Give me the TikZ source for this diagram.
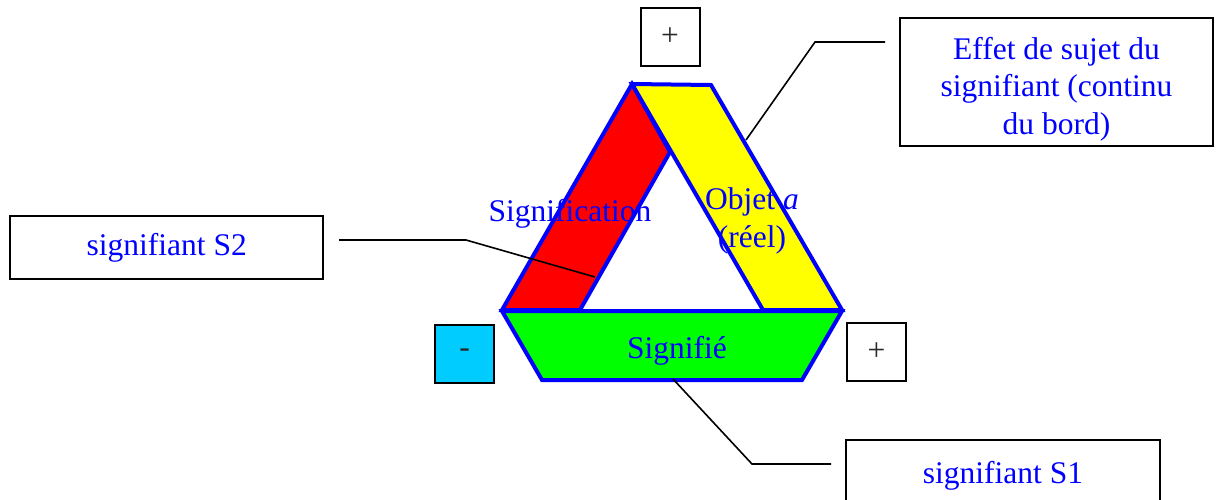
\documentclass[tikz,border=0pt]{standalone}
\usepackage{fontspec}
\setmainfont{Liberation Serif}
\definecolor{bandblue}{RGB}{0,0,255}
\definecolor{bandred}{RGB}{255,0,0}
\definecolor{bandyellow}{RGB}{255,255,0}
\definecolor{bandgreen}{RGB}{0,255,0}
\definecolor{signcyan}{RGB}{0,204,255}
\definecolor{signgray}{RGB}{40,40,40}
\tikzset{
  band/.style={draw=bandblue, line width=2pt, line join=miter},
  labeltext/.style={text=bandblue, font=\fontsize{15.75}{18.75}\selectfont, inner sep=0pt, align=center},
  callout/.style={draw=black, line width=1pt, fill=white, inner sep=0pt, align=center,
    text=bandblue, font=\fontsize{15.75}{18.75}\selectfont},
  signbox/.style={draw=black, line width=1pt, inner sep=0pt, text=signgray,
    font=\fontsize{15.75}{18.75}\selectfont, minimum width=29.5pt, minimum height=29pt},
  leader/.style={draw=black, line width=0.8pt},
}
\begin{document}
\begin{tikzpicture}[x=0.5pt, y=-0.5pt]
  \clip (0,0) rectangle (1221,499);
  \fill[white] (0,0) rectangle (1221,499);

  % the three bands of the triangle
  \draw[band, fill=bandred]    (632,84) -- (670,152) -- (580,310) -- (502,310) -- cycle;
  \draw[band, fill=bandyellow] (632,84) -- (711,85) -- (842,310) -- (763,310) -- cycle;
  \draw[band, fill=bandgreen]  (502,311) -- (842,311) -- (802,380) -- (542,380) -- cycle;

  % band names
  \node[labeltext] (signification) at (570,214) {Signification};
  \node[labeltext] (objet) at (752,221) {Objet \textit{a}\\(réel)};
  \node[labeltext] (signifie) at (677,351) {Signifié};

  % sign boxes at the corners
  \node[signbox] (plustop) at (670,36.5) {+};
  \node[signbox, fill=signcyan] (minus) at (464.5,353.5) {-};
  \node[signbox] (plusright) at (876.5,351.7) {+};

  % callout boxes
  \node[callout, minimum width=156.5pt, minimum height=64pt] (effet) at (1056.5,82) {};
  \node[labeltext] (effettext) at (1056.5,89)
    {Effet de sujet du\\signifiant (continu\\du bord)};
  \node[callout, minimum width=156.5pt, minimum height=31.5pt] (s2) at (166.7,247.5)
    {signifiant S2};
  \node[callout, minimum width=157pt, minimum height=36pt] (s1) at (1003,476)
    {signifiant S1};

  % leader lines
  \coordinate (effetA) at (885,42);
  \coordinate (effetK) at (815,42);
  \coordinate (effetB) at (746,140);
  \draw[leader] (effetA) -- (effetK) -- (effetB);

  \coordinate (s2A) at (339,240);
  \coordinate (s2K) at (466,240);
  \coordinate (s2B) at (595,277);
  \draw[leader] (s2A) -- (s2K) -- (s2B);

  \coordinate (s1A) at (831,464);
  \coordinate (s1K) at (752,464);
  \coordinate (s1B) at (673,379);
  \draw[leader] (s1A) -- (s1K) -- (s1B);
\end{tikzpicture}
\end{document}
